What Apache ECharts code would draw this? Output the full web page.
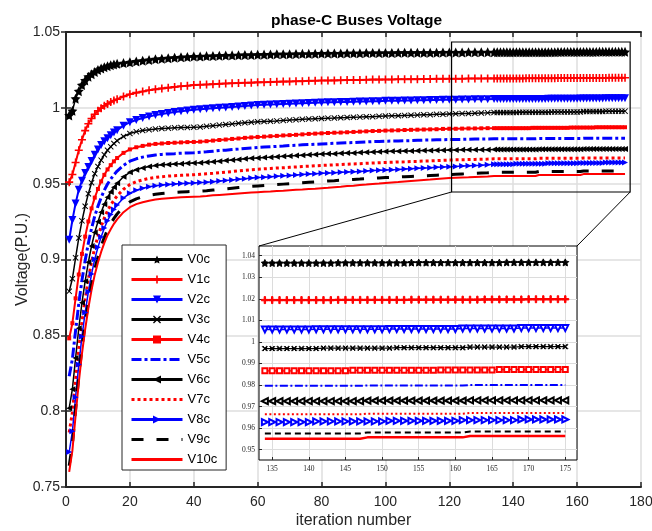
<!DOCTYPE html>
<html>
<head>
<meta charset="UTF-8">
<title>phase-C Buses Voltage</title>
<script src="https://cdn.jsdelivr.net/npm/echarts@6/dist/echarts.min.js"></script>
<style>
  html, body { margin: 0; padding: 0; background: #fff; }
  #main { width: 652px; height: 531px; }
</style>
</head>
<body>
<div id="main"></div>
<script type="text/javascript">
// iteration numbers of the plotted samples
var iterations = [
  1,2,3,4,5,6,7,8,9,10,11,12,13,14,15,16,
  18,20,22,24,26,28,30,32,34,36,
  38,40,42,44,46,48,50,52,54,56,
  58,60,62,64,66,68,70,72,74,76,
  78,80,82,84,86,88,90,92,94,96,
  98,100,102,104,106,108,110,112,114,116,
  118,120,122,124,126,128,130,132,
  134,135,136,137,138,139,140,141,142,143,144,145,146,147,
  148,149,150,151,152,153,154,155,156,157,158,159,160,161,
  162,163,164,165,166,167,168,169,170,171,172,173,174,175
];

var V0c = [
  0.995,0.998,1.006,1.011,1.015,1.018,1.0205,1.0222,1.0237,1.025,1.026,1.0268,1.0275,1.0281,1.0286,1.029,
  1.0295,1.03,1.0306,1.0311,1.0316,1.032,1.0324,1.0327,1.033,1.0333,
  1.0335,1.0338,1.0339,1.0341,1.0342,1.0343,1.0345,1.0346,1.0347,1.0348,
  1.0349,1.035,1.0351,1.0352,1.0353,1.0353,1.0354,1.0355,1.0356,1.0356,
  1.0357,1.0358,1.0358,1.0359,1.0359,1.036,1.036,1.036,1.0361,1.0361,
  1.0362,1.0362,1.0362,1.0363,1.0363,1.0363,1.0364,1.0364,1.0364,1.0364,
  1.0365,1.0365,1.0365,1.0365,1.0366,1.0366,1.0366,1.0366,
  1.0366,1.0366,1.0366,1.0366,1.0366,1.0366,1.0366,1.0366,1.0366,1.0366,1.0367,1.0367,1.0367,1.0367,
  1.0367,1.0367,1.0367,1.0367,1.0367,1.0367,1.0368,1.0368,1.0368,1.0368,1.0368,1.0368,1.0368,1.0368,
  1.0368,1.0368,1.0368,1.0368,1.0368,1.0369,1.0369,1.0369,1.0369,1.0369,1.0369,1.0369,1.0369,1.0369
];
var V1c = [
  0.951,0.956,0.964,0.972,0.979,0.985,0.9895,0.993,0.9958,0.998,0.9998,1.0013,1.0026,1.0038,1.0048,1.0057,
  1.0075,1.009,1.01,1.0108,1.0116,1.0122,1.0128,1.0133,1.0138,1.0142,
  1.0146,1.015,1.0152,1.0154,1.0156,1.0158,1.016,1.0162,1.0163,1.0165,
  1.0166,1.0168,1.0169,1.017,1.0172,1.0173,1.0174,1.0175,1.0176,1.0178,
  1.0179,1.018,1.018,1.0181,1.0182,1.0183,1.0183,1.0184,1.0185,1.0186,
  1.0186,1.0187,1.0187,1.0188,1.0188,1.0189,1.0189,1.019,1.019,1.0191,
  1.0191,1.0192,1.0192,1.0192,1.0193,1.0193,1.0193,1.0194,
  1.0194,1.0194,1.0194,1.0194,1.0194,1.0194,1.0194,1.0194,1.0194,1.0194,1.0195,1.0195,1.0195,1.0195,
  1.0195,1.0195,1.0195,1.0195,1.0195,1.0195,1.0196,1.0196,1.0196,1.0196,1.0196,1.0196,1.0196,1.0196,
  1.0196,1.0196,1.0197,1.0197,1.0197,1.0197,1.0197,1.0197,1.0198,1.0198,1.0198,1.0198,1.0198,1.0198
];
var V2c = [
  0.913,0.926,0.937,0.946,0.952,0.957,0.961,0.965,0.969,0.9725,0.9755,0.978,0.98,0.982,0.9838,0.9853,
  0.9882,0.9905,0.992,0.9933,0.9943,0.9952,0.996,0.9966,0.9972,0.9978,
  0.9983,0.9988,0.9991,0.9994,0.9997,1.0,1.0003,1.0006,1.0009,1.0012,
  1.0015,1.0018,1.002,1.0022,1.0023,1.0025,1.0027,1.0028,1.003,1.0032,
  1.0033,1.0035,1.0036,1.0037,1.0038,1.0039,1.004,1.0041,1.0042,1.0043,
  1.0044,1.0046,1.0047,1.0047,1.0048,1.0049,1.005,1.005,1.0051,1.0052,
  1.0053,1.0054,1.0054,1.0055,1.0055,1.0056,1.0056,1.0057,
  1.0058,1.0058,1.0058,1.0058,1.0058,1.0058,1.0058,1.0059,1.0059,1.0059,1.0059,1.0059,1.0059,1.0059,
  1.0059,1.0059,1.0059,1.006,1.006,1.006,1.006,1.006,1.006,1.006,1.006,1.006,1.006,1.0062,
  1.0062,1.0062,1.0062,1.0062,1.0062,1.0062,1.0062,1.0064,1.0064,1.0064,1.0064,1.0064,1.0064,1.0064
];
var V3c = [
  0.879,0.8873,0.9011,0.9142,0.9255,0.9351,0.9434,0.9506,0.9565,0.9613,0.9655,0.9691,0.972,0.9744,0.9765,0.9783,
  0.9811,0.9831,0.9843,0.9851,0.9856,0.9861,0.9864,0.9866,0.9868,0.987,
  0.9871,0.9872,0.9874,0.9878,0.9882,0.9886,0.989,0.9894,0.9898,0.9902,
  0.9905,0.9908,0.991,0.9912,0.9914,0.9917,0.9919,0.9922,0.9924,0.9926,
  0.9928,0.993,0.9932,0.9933,0.9935,0.9936,0.9938,0.9939,0.9941,0.9942,
  0.9944,0.9946,0.9947,0.9948,0.995,0.9951,0.9952,0.9954,0.9955,0.9957,
  0.9958,0.996,0.9961,0.9962,0.9963,0.9964,0.9966,0.9967,
  0.9969,0.9969,0.9969,0.9969,0.9969,0.9969,0.9969,0.9969,0.9971,0.9971,0.9971,0.9971,0.9971,0.9971,
  0.9971,0.9971,0.9971,0.9971,0.9973,0.9973,0.9973,0.9973,0.9973,0.9973,0.9973,0.9973,0.9973,0.9973,
  0.9976,0.9976,0.9976,0.9976,0.9976,0.9976,0.9976,0.9978,0.9978,0.9978,0.9978,0.9978,0.9978,0.9978
];
var V4c = [
  0.848,0.858,0.8744,0.8901,0.9037,0.9151,0.9251,0.9337,0.9408,0.9465,0.9515,0.9558,0.9594,0.9622,0.9647,0.9669,
  0.9703,0.9726,0.974,0.9749,0.9757,0.9762,0.9765,0.9768,0.977,0.9772,
  0.9774,0.9775,0.9777,0.978,0.9784,0.9788,0.9791,0.9795,0.9798,0.9802,
  0.9805,0.9808,0.981,0.9813,0.9815,0.9818,0.982,0.9822,0.9825,0.9828,
  0.983,0.9832,0.9834,0.9836,0.9837,0.9839,0.9841,0.9843,0.9845,0.9847,
  0.9848,0.985,0.9851,0.9852,0.9854,0.9855,0.9856,0.9857,0.9858,0.9859,
  0.9861,0.9862,0.9862,0.9863,0.9864,0.9864,0.9865,0.9866,
  0.9866,0.9866,0.9866,0.9866,0.9866,0.9866,0.9866,0.9866,0.9866,0.9866,0.9866,0.9866,0.9868,0.9868,
  0.9868,0.9868,0.9868,0.9868,0.9868,0.9868,0.9868,0.9868,0.9868,0.9868,0.987,0.987,0.987,0.987,
  0.987,0.987,0.987,0.987,0.9872,0.9872,0.9872,0.9872,0.9872,0.9872,0.9872,0.9872,0.9872,0.9872
];
var V5c = [
  0.823,0.8344,0.8531,0.8709,0.8864,0.8994,0.9108,0.9205,0.9286,0.9351,0.9408,0.9457,0.9498,0.953,0.9559,0.9583,
  0.9621,0.9648,0.9664,0.9675,0.9683,0.9689,0.9693,0.9696,0.9698,0.9701,
  0.9702,0.9704,0.9707,0.971,0.9714,0.9718,0.9721,0.9725,0.9728,0.9732,
  0.9735,0.9738,0.9741,0.9743,0.9746,0.9748,0.9751,0.9753,0.9756,0.9758,
  0.976,0.9762,0.9764,0.9766,0.9768,0.977,0.9771,0.9773,0.9775,0.9777,
  0.9778,0.978,0.9781,0.9782,0.9783,0.9784,0.9786,0.9787,0.9788,0.9789,
  0.979,0.9791,0.9792,0.9792,0.9793,0.9794,0.9794,0.9795,
  0.9796,0.9796,0.9796,0.9796,0.9796,0.9796,0.9796,0.9796,0.9796,0.9796,0.9796,0.9796,0.9796,0.9796,
  0.9798,0.9798,0.9798,0.9798,0.9798,0.9798,0.9798,0.9798,0.9798,0.9798,0.9798,0.9798,0.9798,0.9798,
  0.98,0.98,0.98,0.98,0.98,0.98,0.98,0.98,0.98,0.98,0.98,0.98,0.98,0.98
];
var V6c = [
  0.802,0.8145,0.835,0.8546,0.8715,0.8857,0.8982,0.9089,0.9178,0.9249,0.9312,0.9365,0.941,0.9445,0.9477,0.9503,
  0.9545,0.9575,0.9592,0.9604,0.9613,0.9619,0.9624,0.9627,0.963,0.9632,
  0.9634,0.9636,0.9638,0.9641,0.9644,0.9648,0.9652,0.9656,0.966,0.9664,
  0.9667,0.967,0.9673,0.9675,0.9678,0.968,0.9683,0.9685,0.9688,0.969,
  0.9693,0.9695,0.9697,0.9698,0.97,0.9702,0.9703,0.9705,0.9707,0.9708,
  0.971,0.9712,0.9713,0.9714,0.9715,0.9716,0.9717,0.9718,0.9719,0.972,
  0.9721,0.9722,0.9722,0.9723,0.9723,0.9723,0.9724,0.9724,
  0.9725,0.9725,0.9725,0.9725,0.9725,0.9725,0.9725,0.9725,0.9725,0.9725,0.9725,0.9725,0.9725,0.9725,
  0.9727,0.9727,0.9727,0.9727,0.9727,0.9727,0.9727,0.9727,0.9727,0.9727,0.9727,0.9727,0.9727,0.9727,
  0.9729,0.9729,0.9729,0.9729,0.9729,0.9729,0.9729,0.9729,0.9729,0.9729,0.9729,0.9729,0.9729,0.9729
];
var V7c = [
  0.786,0.7991,0.8207,0.8413,0.8591,0.874,0.8872,0.8984,0.9078,0.9153,0.9218,0.9274,0.9321,0.9359,0.9391,0.9419,
  0.9463,0.9494,0.9513,0.9525,0.9535,0.9541,0.9546,0.955,0.9552,0.9555,
  0.9557,0.9559,0.9562,0.9565,0.9568,0.9572,0.9576,0.958,0.9584,0.9588,
  0.9592,0.9595,0.9598,0.96,0.9603,0.9605,0.9608,0.961,0.9613,0.9615,
  0.9618,0.962,0.9622,0.9624,0.9626,0.9628,0.963,0.9632,0.9634,0.9636,
  0.9638,0.964,0.9641,0.9643,0.9644,0.9646,0.9647,0.9649,0.965,0.9652,
  0.9654,0.9656,0.9657,0.9658,0.9659,0.966,0.9661,0.9662,
  0.9664,0.9664,0.9664,0.9664,0.9664,0.9664,0.9664,0.9664,0.9664,0.9664,0.9664,0.9664,0.9664,0.9664,
  0.9667,0.9667,0.9667,0.9667,0.9667,0.9667,0.9667,0.9667,0.9667,0.9667,0.9667,0.9667,0.9667,0.9667,
  0.967,0.967,0.967,0.967,0.967,0.967,0.967,0.967,0.967,0.967,0.967,0.967,0.967,0.967
];
var V8c = [
  0.773,0.7867,0.8092,0.8307,0.8493,0.865,0.8787,0.8904,0.9002,0.908,0.9149,0.9208,0.9256,0.9296,0.933,0.9359,
  0.9405,0.9437,0.9457,0.947,0.9479,0.9486,0.9491,0.9495,0.9498,0.9501,
  0.9503,0.9505,0.9507,0.9509,0.9513,0.9517,0.9521,0.9525,0.9529,0.9533,
  0.9537,0.954,0.9543,0.9546,0.9549,0.9552,0.9554,0.9557,0.956,0.9563,
  0.9566,0.9568,0.957,0.9572,0.9575,0.9577,0.9579,0.9581,0.9584,0.9586,
  0.9588,0.959,0.9592,0.9594,0.9597,0.9599,0.9601,0.9603,0.9605,0.9608,
  0.961,0.9612,0.9614,0.9616,0.9618,0.962,0.9622,0.9625,
  0.9628,0.9628,0.9628,0.9628,0.9628,0.9628,0.9628,0.9631,0.9631,0.9631,0.9631,0.9631,0.9631,0.9631,
  0.9631,0.9631,0.9631,0.9634,0.9634,0.9634,0.9634,0.9634,0.9634,0.9634,0.9634,0.9634,0.9634,0.9637,
  0.9637,0.9637,0.9637,0.9637,0.9637,0.9637,0.9637,0.964,0.964,0.964,0.964,0.964,0.964,0.964
];
var V9c = [
  0.764,0.778,0.8009,0.8229,0.8418,0.8578,0.8717,0.8837,0.8937,0.9016,0.9086,0.9146,0.9196,0.9236,0.9271,0.93,
  0.9347,0.938,0.94,0.9413,0.9423,0.943,0.9435,0.9439,0.9442,0.9445,
  0.9447,0.9449,0.9451,0.9454,0.9458,0.9462,0.9466,0.947,0.9474,0.9478,
  0.9482,0.9485,0.9488,0.9491,0.9494,0.9497,0.95,0.9503,0.9506,0.9509,
  0.9512,0.9515,0.9518,0.952,0.9523,0.9525,0.9528,0.953,0.9533,0.9535,
  0.9538,0.954,0.9542,0.9544,0.9546,0.9548,0.955,0.9552,0.9554,0.9556,
  0.9558,0.956,0.9562,0.9564,0.9566,0.9568,0.957,0.9572,
  0.9575,0.9575,0.9575,0.9575,0.9575,0.9575,0.9575,0.9575,0.9575,0.9575,0.9575,0.9575,0.9575,0.9575,
  0.958,0.958,0.958,0.958,0.958,0.958,0.958,0.958,0.958,0.958,0.958,0.958,0.958,0.958,
  0.9584,0.9584,0.9584,0.9584,0.9584,0.9584,0.9584,0.9584,0.9584,0.9584,0.9584,0.9584,0.9584,0.9584
];
var V10c = [
  0.76,0.774,0.797,0.819,0.838,0.854,0.868,0.88,0.89,0.898,0.905,0.911,0.916,0.92,0.9235,0.9265,
  0.9312,0.9345,0.9365,0.9378,0.9388,0.9395,0.94,0.9404,0.9407,0.941,
  0.9412,0.9414,0.9416,0.9419,0.9423,0.9426,0.9429,0.9432,0.9435,0.9438,
  0.9441,0.9444,0.9447,0.9449,0.9452,0.9454,0.9457,0.946,0.9462,0.9465,
  0.9467,0.947,0.9473,0.9477,0.948,0.9484,0.9487,0.9491,0.9494,0.9498,
  0.9501,0.9505,0.9508,0.9511,0.9515,0.9518,0.9521,0.9524,0.9527,0.9531,
  0.9534,0.9537,0.9539,0.9541,0.9542,0.9544,0.9546,0.9548,
  0.9551,0.9551,0.9551,0.9551,0.9551,0.9551,0.9551,0.9551,0.9551,0.9551,0.9551,0.9551,0.9551,0.9551,
  0.9557,0.9557,0.9557,0.9557,0.9557,0.9557,0.9557,0.9557,0.9557,0.9557,0.9557,0.9557,0.9557,0.9557,
  0.9563,0.9563,0.9563,0.9563,0.9563,0.9563,0.9563,0.9563,0.9563,0.9563,0.9563,0.9563,0.9563,0.9563
];

var names = ['V0c','V1c','V2c','V3c','V4c','V5c','V6c','V7c','V8c','V9c','V10c'];
var values = [V0c, V1c, V2c, V3c, V4c, V5c, V6c, V7c, V8c, V9c, V10c];

// zoomed part: first iteration shown, axis ranges and tick labels of the inset
var zoomFrom = 134;
var insetX = [133.2, 176.6];
var insetY = [0.9452, 1.0445];
var insetXTicks = [135, 140, 145, 150, 155, 160, 165, 170, 175];
var insetYTicks = [0.95, 0.96, 0.97, 0.98, 0.99, 1, 1.01, 1.02, 1.03, 1.04];
// rectangle marking the zoomed region on the main plot [x0, y0, x1, y1]
var zoomBox = [120.7, 0.9445, 176.6, 1.0434];

var star = 'path://M0,-10L2.94,-4.05L9.51,-3.09L4.76,1.55L5.88,8.09L0,5L-5.88,8.09L-4.76,1.55L-9.51,-3.09L-2.94,-4.05Z';
var plus = 'path://M-1.2,-6L1.2,-6L1.2,-1.2L6,-1.2L6,1.2L1.2,1.2L1.2,6L-1.2,6L-1.2,1.2L-6,1.2L-6,-1.2L-1.2,-1.2Z';
var cross = 'path://M-6,-4.6L-4.6,-6L0,-1.4L4.6,-6L6,-4.6L1.4,0L6,4.6L4.6,6L0,1.4L-4.6,6L-6,4.6L-1.4,0Z';

// main style, inset style
var styles = [
  { c: '#000000', sym: star, size: 10, w: 1.5, isym: star, isize: 7, iw: 1 },
  { c: '#ff0000', sym: plus, size: 8, w: 2, isym: plus, isize: 7, iw: 2 },
  { c: '#0000ff', sym: 'triangle', rot: 180, size: 8, w: 2, isym: 'emptyTriangle', isize: 6, iw: 1.5 },
  { c: '#000000', sym: cross, size: 6, w: 1.5, isym: cross, isize: 5, iw: 1.2 },
  { c: '#ff0000', sym: 'rect', size: 4, w: 2, isym: 'emptyRect', isize: 5, iw: 1.2 },
  { c: '#0000ff', sym: 'none', w: 3, dash: [10, 3, 3, 3], isym: 'none', iw: 2, idash: [8, 2.5, 2, 2.5] },
  { c: '#000000', sym: 'triangle', rot: 90, size: 6, w: 1.5, isym: 'emptyTriangle', isize: 6, iw: 1.2 },
  { c: '#ff0000', sym: 'none', w: 3, dash: [3, 3], isym: 'none', iw: 2, idash: [2, 2.5] },
  { c: '#0000ff', sym: 'triangle', rot: -90, size: 6, w: 1.5, isym: 'emptyTriangle', isize: 6, iw: 1.2 },
  { c: '#000000', sym: 'none', w: 3, dash: [12, 13], isym: 'none', iw: 2, idash: [6, 4] },
  { c: '#ff0000', sym: 'none', w: 2, isym: 'none', iw: 2.5 }
];

var font = 'Liberation Sans, Arial, Helvetica, sans-serif';
var serif = 'Liberation Serif, Times New Roman, serif';
var axisColor = '#262626';

var series = [];
names.forEach(function (n, i) {
  var s = styles[i];
  var pts = iterations.map(function (x, k) { return [x, values[i][k]]; });
  series.push({
    name: n, type: 'line', xAxisIndex: 0, yAxisIndex: 0, data: pts,
    symbol: s.sym, symbolSize: s.size || 0, symbolRotate: s.rot || 0,
    lineStyle: { color: s.c, width: s.w, type: s.dash || 'solid', cap: 'butt' },
    itemStyle: { color: s.c },
    silent: true, z: 2
  });
  series.push({
    name: n + ' zoom', type: 'line', xAxisIndex: 2, yAxisIndex: 2,
    data: pts.filter(function (p) { return p[0] >= zoomFrom; }),
    symbol: s.isym, symbolSize: s.isize || 0, symbolRotate: s.rot || 0,
    lineStyle: { color: s.c, width: s.iw, type: s.idash || 'solid', cap: 'butt' },
    itemStyle: { color: s.c, borderColor: s.c, borderWidth: 1 },
    silent: true, z: 5
  });
});

// legend entries: hide the marker for plain line series
var legendData = names.map(function (n, i) {
  return styles[i].sym === 'none' ? { name: n, itemStyle: { opacity: 0 } } : n;
});

var chart = echarts.init(document.getElementById('main'));

var option = {
  animation: false,
  backgroundColor: '#ffffff',
  title: {
    text: 'phase-C Buses Voltage', left: 266, top: 8,
    textStyle: { fontFamily: font, fontSize: 15.5, fontWeight: 'bold', color: '#000' }
  },
  grid: [
    { left: 66, top: 32, width: 575, height: 455, outerBoundsMode: 'none' },
    { left: 259, top: 246, width: 318, height: 214, outerBoundsMode: 'none', show: true,
      backgroundColor: '#fff', borderColor: '#000', borderWidth: 1, z: 3 }
  ],
  legend: {
    data: legendData, orient: 'vertical', left: 122, top: 245,
    itemWidth: 51, itemHeight: 10, itemGap: 7, padding: [8, 9, 4, 8],
    backgroundColor: '#fff', borderColor: axisColor, borderWidth: 1,
    textStyle: { fontFamily: font, fontSize: 13, color: '#000' },
    lineStyle: { width: 3 },
    selectedMode: false, z: 6
  },
  xAxis: [
    {
      type: 'value', gridIndex: 0, min: 0, max: 180, interval: 20, position: 'bottom',
      name: 'iteration number', nameLocation: 'middle', nameGap: 26, nameMoveOverlap: false,
      nameTextStyle: { fontFamily: font, fontSize: 16, color: axisColor },
      axisLine: { lineStyle: { color: axisColor, width: 2 } },
      axisTick: { inside: true, length: 5, lineStyle: { color: axisColor, width: 1.5 } },
      axisLabel: { fontFamily: font, fontSize: 14, color: axisColor, margin: 8 },
      splitLine: { show: true, lineStyle: { color: '#dedede', width: 1.5 } }
    },
    {
      type: 'value', gridIndex: 0, min: 0, max: 180, interval: 20, position: 'top',
      axisLine: { lineStyle: { color: axisColor, width: 2 } },
      axisTick: { inside: true, length: 5, lineStyle: { color: axisColor, width: 1.5 } },
      axisLabel: { show: false }, splitLine: { show: false }
    },
    {
      type: 'value', gridIndex: 1, min: insetX[0], max: insetX[1], z: 4,
      axisLine: { show: false },
      axisTick: { inside: true, length: 3, customValues: insetXTicks, lineStyle: { color: axisColor } },
      axisLabel: { customValues: insetXTicks, fontFamily: serif, fontSize: 7.5, color: axisColor, margin: 5 },
      splitLine: { show: true, lineStyle: { color: '#dcdcdc', width: 1 } }
    }
  ],
  yAxis: [
    {
      type: 'value', gridIndex: 0, min: 0.75, max: 1.05, interval: 0.05, position: 'left',
      name: 'Voltage(P.U.)', nameLocation: 'middle', nameGap: 35, nameMoveOverlap: false,
      nameTextStyle: { fontFamily: font, fontSize: 16, color: axisColor },
      axisLine: { lineStyle: { color: axisColor, width: 2 } },
      axisTick: { inside: true, length: 5, lineStyle: { color: axisColor, width: 1.5 } },
      axisLabel: { fontFamily: font, fontSize: 14, color: axisColor, margin: 6 },
      splitLine: { show: true, lineStyle: { color: '#dedede', width: 1.5 } }
    },
    {
      type: 'value', gridIndex: 0, min: 0.75, max: 1.05, interval: 0.05, position: 'right',
      axisLine: { lineStyle: { color: axisColor, width: 2 } },
      axisTick: { inside: true, length: 5, lineStyle: { color: axisColor, width: 1.5 } },
      axisLabel: { show: false }, splitLine: { show: false }
    },
    {
      type: 'value', gridIndex: 1, min: insetY[0], max: insetY[1], z: 4,
      axisLine: { show: false },
      axisTick: { inside: true, length: 3, customValues: insetYTicks, lineStyle: { color: axisColor } },
      axisLabel: { customValues: insetYTicks, fontFamily: serif, fontSize: 7.5, color: axisColor, margin: 4 },
      splitLine: { show: true, lineStyle: { color: '#dcdcdc', width: 1 } }
    }
  ],
  series: series
};

chart.setOption(option);

// zoom rectangle and the two connector lines, placed through the axes
var a = chart.convertToPixel({ xAxisIndex: 0, yAxisIndex: 0 }, [zoomBox[0], zoomBox[3]]);
var b = chart.convertToPixel({ xAxisIndex: 0, yAxisIndex: 0 }, [zoomBox[2], zoomBox[1]]);
var c = chart.convertToPixel({ xAxisIndex: 2, yAxisIndex: 2 }, [insetX[0], insetY[1]]);
var d = chart.convertToPixel({ xAxisIndex: 2, yAxisIndex: 2 }, [insetX[1], insetY[1]]);

chart.setOption({
  graphic: [
    { type: 'rect', z: 20, silent: true,
      shape: { x: a[0], y: a[1], width: b[0] - a[0], height: b[1] - a[1] },
      style: { fill: 'none', stroke: '#000', lineWidth: 1.2 } },
    { type: 'line', z: 20, silent: true,
      shape: { x1: a[0], y1: b[1], x2: c[0], y2: c[1] },
      style: { stroke: '#000', lineWidth: 1 } },
    { type: 'line', z: 20, silent: true,
      shape: { x1: b[0], y1: b[1], x2: d[0], y2: d[1] },
      style: { stroke: '#000', lineWidth: 1 } }
  ]
});
</script>
</body>
</html>
